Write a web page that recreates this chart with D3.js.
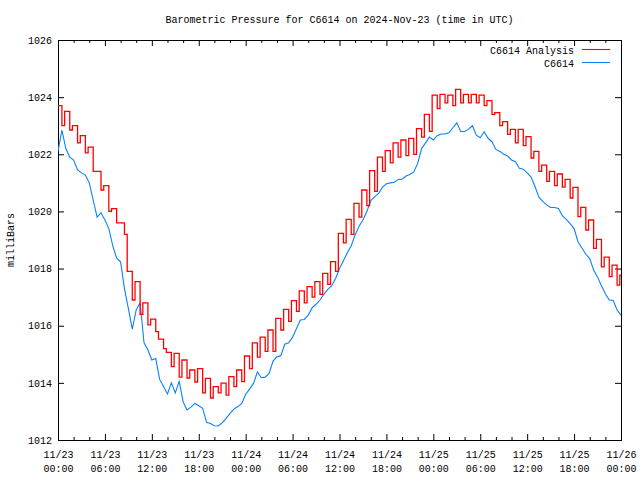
<!DOCTYPE html>
<html>
<head>
<meta charset="utf-8">
<script src="https://cdn.jsdelivr.net/npm/d3@7"></script>
<style>
  html, body { margin: 0; padding: 0; background: #fff; }
  svg { display: block; }
  text { font-family: "Liberation Mono", "DejaVu Sans Mono", monospace; font-size: 10px; fill: #000; }
</style>
</head>
<body>
<svg id="chart" width="640" height="480"></svg>
<script>
// ---------------- DATA ----------------
const chartTitle = "Barometric Pressure for C6614 on 2024-Nov-23 (time in UTC)";
const yAxisTitle = "milliBars";
const seriesNames = ["C6614 Analysis", "C6614"];
const startTime = "2024-11-23T00:00:00Z";
const hoursSpan = 72;

// Tick labels
const xTickHours = [0, 6, 12, 18, 24, 30, 36, 42, 48, 54, 60, 66, 72];
const xTickDates = ["11/23", "11/23", "11/23", "11/23", "11/24", "11/24", "11/24", "11/24", "11/25", "11/25", "11/25", "11/25", "11/26"];
const xTickTimes = ["00:00", "06:00", "12:00", "18:00", "00:00", "06:00", "12:00", "18:00", "00:00", "06:00", "12:00", "18:00", "00:00"];
const yTicks = [1012, 1014, 1016, 1018, 1020, 1022, 1024, 1026];

// C6614 Analysis: hourly upper (plateau) and lower (drop) values, hours 0..72
const analysisHigh = [
  1023.7, 1023.5, 1023.0, 1022.65, 1022.25, 1021.4, 1020.9, 1020.1, 1019.6, 1017.9,
  1017.54, 1016.8, 1016.23, 1015.53, 1015.07, 1015.03, 1014.8, 1014.45, 1014.5, 1014.16,
  1013.87, 1013.99, 1014.22, 1014.45, 1014.94, 1015.4, 1015.6, 1015.85, 1016.26, 1016.57,
  1016.88, 1017.22, 1017.37, 1017.54, 1017.83, 1018.24, 1019.23, 1019.72, 1020.28, 1020.75,
  1021.43, 1021.9, 1022.13, 1022.4, 1022.5, 1022.56, 1022.9, 1023.4, 1024.07, 1024.1,
  1024.07, 1024.27, 1024.1, 1024.1, 1024.07, 1023.88, 1023.46, 1023.14, 1022.87, 1022.87,
  1022.62, 1022.1, 1021.62, 1021.4, 1021.31, 1021.12, 1020.84, 1020.14, 1019.7, 1019.02,
  1018.4, 1018.12, 1017.77
];
const analysisLow = [
  1023.0, 1022.85, 1022.4, 1022.05, 1021.4, 1020.75, 1020.0, 1019.6, 1019.2, 1016.9,
  1016.4, 1016.03, 1015.79, 1015.2, 1014.57, 1014.2, 1014.17, 1014.03, 1013.65, 1013.47,
  1013.65, 1013.57, 1013.87, 1014.04, 1014.5, 1014.9, 1015.1, 1015.1, 1015.85, 1016.15,
  1016.5, 1016.8, 1017.0, 1017.1, 1017.45, 1017.9, 1018.9, 1019.2, 1019.8, 1020.2,
  1020.7, 1021.4, 1021.7, 1021.9, 1021.95, 1022.0, 1022.6, 1022.8, 1023.6, 1023.8,
  1023.7, 1023.8, 1023.8, 1023.8, 1023.7, 1023.4, 1023.0, 1022.7, 1022.4, 1022.3,
  1021.87, 1021.4, 1021.05, 1020.9, 1020.85, 1020.47, 1019.82, 1019.35, 1018.71, 1018.06,
  1017.72, 1017.42, 1017.4
];

// C6614 observed: every 30 minutes, hours 0..72
const stationValues = [
  1022.1, 1022.85, 1022.2, 1021.9, 1021.8, 1021.45, 1021.35, 1021.27, 1021.0, 1020.4,
  1019.8, 1019.95, 1019.7, 1019.4, 1018.8, 1018.36, 1018.24, 1017.3, 1016.6, 1015.88,
  1016.55, 1016.8, 1015.4, 1015.15, 1014.8, 1014.85, 1014.12, 1013.87, 1013.61, 1014.0,
  1013.65, 1014.05, 1013.34, 1013.05, 1013.15, 1013.28, 1013.2, 1013.11, 1012.62, 1012.58,
  1012.5, 1012.49, 1012.6, 1012.76, 1012.93, 1013.08, 1013.17, 1013.28, 1013.6, 1013.78,
  1013.98, 1014.38, 1014.18, 1014.2, 1014.33, 1014.76, 1014.91, 1014.95, 1015.35, 1015.4,
  1015.6, 1015.9, 1016.2, 1016.22, 1016.37, 1016.63, 1016.75, 1016.9, 1017.1, 1017.27,
  1017.4, 1017.65, 1018.0, 1018.27, 1018.55, 1018.8, 1019.18, 1019.48, 1019.7, 1020.0,
  1020.38, 1020.52, 1020.63, 1020.85, 1020.97, 1021.0, 1021.02, 1021.12, 1021.13, 1021.24,
  1021.29, 1021.38, 1021.68, 1022.2, 1022.4, 1022.6, 1022.5, 1022.65, 1022.71, 1022.71,
  1022.75, 1022.93, 1023.1, 1022.8, 1022.8, 1022.88, 1023.0, 1022.67, 1022.58, 1022.79,
  1022.56, 1022.44, 1022.17, 1022.1, 1022.0, 1021.94, 1021.8, 1021.74, 1021.51, 1021.48,
  1021.35, 1021.2, 1020.87, 1020.5, 1020.35, 1020.23, 1020.14, 1020.14, 1020.1, 1019.85,
  1019.72, 1019.57, 1019.4, 1018.94, 1018.72, 1018.5, 1018.35, 1017.95, 1017.7, 1017.4,
  1017.12, 1016.9, 1016.88, 1016.55, 1016.37
];

// ---------------- CHART ----------------
const svg = d3.select("#chart");
const W = 640, H = 480;
const margin = { left: 58, right: 19, top: 40, bottom: 40 };
const x0 = margin.left, x1 = W - margin.right, y0 = margin.top, y1 = H - margin.bottom;

const t0 = new Date(startTime).getTime();
const hourDate = h => new Date(t0 + h * 3600 * 1000);

const x = d3.scaleUtc().domain([hourDate(0), hourDate(hoursSpan)]).range([x0, x1]);
const y = d3.scaleLinear().domain([1012, 1026]).range([y1, y0]);

svg.append("rect").attr("width", W).attr("height", H).attr("fill", "#fff");

// clip
svg.append("defs").append("clipPath").attr("id", "plotclip")
  .append("rect").attr("x", x0).attr("y", y0).attr("width", x1 - x0).attr("height", y1 - y0);

// minor x ticks (every 2 hours)
const minorHours = d3.range(0, hoursSpan + 1, 2).filter(h => h % 6 !== 0);
const majorDates = xTickHours.map(hourDate);
const minorDates = minorHours.map(hourDate);

function styleAxis(g) {
  g.select(".domain").remove();
  g.selectAll(".tick line").attr("stroke", "#000").attr("stroke-width", 1);
}

// bottom major
const gxb = svg.append("g").attr("transform", `translate(0,${y1})`)
  .call(d3.axisBottom(x).tickValues(majorDates).tickSize(-6).tickFormat(""));
styleAxis(gxb);
gxb.selectAll(".tick text").remove();
gxb.selectAll(".tick").each(function(d, i) {
  const t = d3.select(this).append("text").attr("text-anchor", "middle").attr("fill", "#000")
    .style("font-family", "'Liberation Mono', 'DejaVu Sans Mono', monospace").style("font-size", "10px");
  t.append("tspan").attr("x", 0).attr("y", 18).text(xTickDates[i]);
  t.append("tspan").attr("x", 0).attr("y", 32).text(xTickTimes[i]);
});
// bottom minor
styleAxis(svg.append("g").attr("transform", `translate(0,${y1})`)
  .call(d3.axisBottom(x).tickValues(minorDates).tickSize(-3).tickFormat("")));
// top major + minor
styleAxis(svg.append("g").attr("transform", `translate(0,${y0})`)
  .call(d3.axisTop(x).tickValues(majorDates).tickSize(-6).tickFormat("")));
styleAxis(svg.append("g").attr("transform", `translate(0,${y0})`)
  .call(d3.axisTop(x).tickValues(minorDates).tickSize(-3).tickFormat("")));

// left
const gyl = svg.append("g").attr("transform", `translate(${x0},0)`)
  .call(d3.axisLeft(y).tickValues(yTicks).tickSize(-6).tickPadding(6).tickFormat(d3.format("d")));
styleAxis(gyl);
gyl.selectAll(".tick text").attr("fill", "#000")
  .style("font-family", "'Liberation Mono', 'DejaVu Sans Mono', monospace").style("font-size", "10px");
// right
styleAxis(svg.append("g").attr("transform", `translate(${x1},0)`)
  .call(d3.axisRight(y).tickValues(yTicks).tickSize(-6).tickFormat("")));

// border
svg.append("rect").attr("x", x0 + 0.5).attr("y", y0 + 0.5)
  .attr("width", x1 - x0).attr("height", y1 - y0)
  .attr("fill", "none").attr("stroke", "#000").attr("stroke-width", 1);

// series
const plot = svg.append("g").attr("clip-path", "url(#plotclip)");

// analysis: hourly plateau then drop
const analysisPts = [];
analysisHigh.forEach((hi, h) => {
  const up = Math.max(0, h - 0.15);
  const flatEnd = Math.min(hoursSpan, h + 0.5);
  analysisPts.push([up, hi], [flatEnd, hi]);
  if (h + 0.5 < hoursSpan) {
    analysisPts.push([flatEnd, analysisLow[h]], [Math.min(hoursSpan, h + 0.85), analysisLow[h]]);
  }
});

const line = d3.line().x(d => x(hourDate(d[0]))).y(d => y(d[1]));

const stationPts = stationValues.map((v, i) => [i * 0.5, v]);

plot.append("path").datum(stationPts)
  .attr("d", line.curve(d3.curveLinear))
  .attr("fill", "none").attr("stroke", "#0a80ff").attr("stroke-width", 1.1);

plot.append("path").datum(analysisPts)
  .attr("d", line.curve(d3.curveLinear))
  .attr("fill", "none").attr("stroke", "#ff0000").attr("stroke-width", 1.3);

// title
svg.append("text").attr("x", (x0 + x1) / 2 + 0).attr("y", 23).attr("text-anchor", "middle").text(chartTitle);

// y axis title
svg.append("text").attr("transform", `translate(14,${(y0 + y1) / 2}) rotate(-90)`)
  .attr("text-anchor", "middle").text(yAxisTitle);

// legend
const legendColors = ["#ff0000", "#0a80ff"];
seriesNames.forEach((name, i) => {
  const ly = 50 + i * 13;
  svg.append("text").attr("x", 574).attr("y", ly + 3.5).attr("text-anchor", "end").text(name);
  svg.append("line").attr("x1", 582).attr("x2", 610).attr("y1", ly - 0.5).attr("y2", ly - 0.5)
    .attr("stroke", legendColors[i]).attr("stroke-width", 1.1);
});
</script>
</body>
</html>
